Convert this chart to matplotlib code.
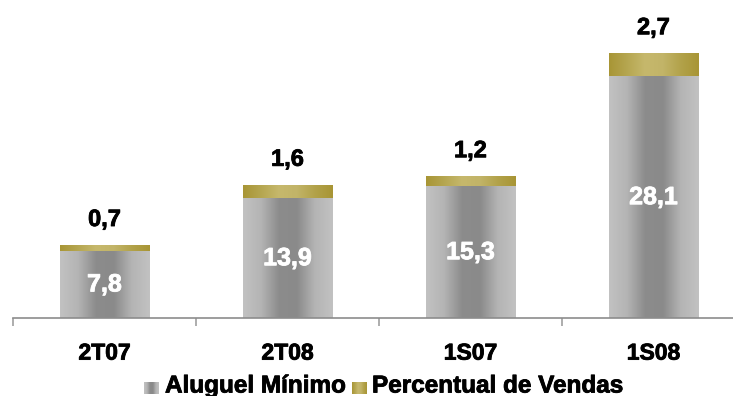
import numpy as np
import matplotlib
matplotlib.use("Agg")
import matplotlib.pyplot as plt
import matplotlib.patheffects as pe
from matplotlib.colors import LinearSegmentedColormap

periodos = ["2T07", "2T08", "1S07", "1S08"]
aluguel_minimo = [7.8, 13.9, 15.3, 28.1]
perc_vendas = [0.7, 1.6, 1.2, 2.7]

plt.rcParams["font.family"] = ["Liberation Sans", "DejaVu Sans"]
plt.rcParams["font.weight"] = "bold"

cinza = LinearSegmentedColormap.from_list(
    "cinza", ["#c2c2c2", "#b4b4b4", "#8c8c8c", "#8a8a8a", "#b4b4b4", "#c2c2c2"])
ouro = LinearSegmentedColormap.from_list(
    "ouro", ["#a89535", "#b5a650", "#c6b86c", "#c2b468", "#b2a24a", "#a89535"])
grad = np.linspace(0, 1, 256).reshape(1, -1)

# slightly heavier strokes for the bold labels
grosso = [pe.withStroke(linewidth=0.6, foreground="black")]
grosso_b = [pe.withStroke(linewidth=0.6, foreground="white")]

W, H = 733, 396
fig = plt.figure(figsize=(W / 100, H / 100), dpi=100)
ax = fig.add_axes([13 / W, 1 - 318 / H, 732 / W, 308 / H])

x = np.arange(len(periodos))
b1 = ax.bar(x, aluguel_minimo, width=0.49, color="none")
b2 = ax.bar(x, perc_vendas, width=0.49, bottom=aluguel_minimo, color="none")

# fill each bar with a horizontal gradient clipped to its rectangle
for bars, cmap in ((b1, cinza), (b2, ouro)):
    for p in bars:
        x0, y0 = p.get_x(), p.get_y()
        im = ax.imshow(grad, cmap=cmap, aspect="auto",
                       extent=(x0, x0 + p.get_width(), y0, y0 + p.get_height()),
                       zorder=2)
        im.set_clip_path(p)

ax.set_xlim(-0.5, len(periodos) - 0.5)
ax.set_ylim(0, 308 / 8.6)

for i in range(len(periodos)):
    ax.text(x[i], aluguel_minimo[i] / 2, f"{aluguel_minimo[i]:.1f}".replace(".", ","),
            ha="center", va="center", color="white", fontsize=18, fontweight="bold",
            zorder=3, path_effects=grosso_b)
    total = aluguel_minimo[i] + perc_vendas[i]
    ax.annotate(f"{perc_vendas[i]:.1f}".replace(".", ","), (x[i], total),
                xytext=(0, 10), textcoords="offset points", ha="center", va="bottom",
                fontsize=17, fontweight="bold", color="black", path_effects=grosso)

for s in ("top", "left", "right"):
    ax.spines[s].set_visible(False)
ax.spines["bottom"].set_color("#8c8c8c")
ax.spines["bottom"].set_linewidth(1.2)
ax.set_yticks([])
ax.set_xticks(x)
ax.set_xticklabels(periodos, fontsize=16.5, fontweight="bold")
for t in ax.get_xticklabels():
    t.set_path_effects(grosso)
ax.tick_params(axis="x", which="major", length=0, pad=17)
ax.set_xticks(np.arange(len(periodos) + 1) - 0.5, minor=True)
ax.tick_params(axis="x", which="minor", length=6, width=1.2, color="#a0a0a0")

# legend drawn by hand so the swatches keep their gradients
for x0, cmap, label, tx in ((144, cinza, "Aluguel Mínimo", 165),
                            (352, ouro, "Percentual de Vendas", 372)):
    sw = fig.add_axes([x0 / W, 1 - 394 / H, 15 / W, 12 / H])
    sw.imshow(grad, cmap=cmap, aspect="auto")
    sw.axis("off")
    fig.text(tx / W, 1 - 386 / H, label, fontsize=17.5, fontweight="bold",
             va="center", ha="left", path_effects=grosso)

fig.savefig("out.png", dpi=100)
